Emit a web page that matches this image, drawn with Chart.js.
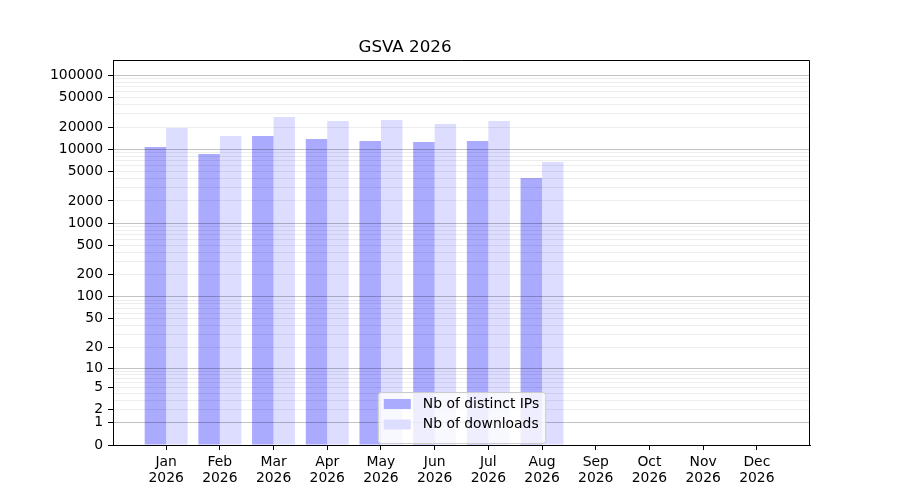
<!DOCTYPE html>
<html>
<head>
<meta charset="utf-8">
<title>GSVA 2026</title>
<script src="https://cdn.jsdelivr.net/npm/chart.js@4.4.1/dist/chart.umd.min.js"></script>
<style>
  body { margin: 0; background: #fff; }
  #wrap { width: 900px; height: 500px; }
</style>
</head>
<body>
<div id="wrap"><canvas id="gsvaChart" width="900" height="500"></canvas></div>
<script>
// values
const months = ['Jan', 'Feb', 'Mar', 'Apr', 'May', 'Jun', 'Jul', 'Aug', 'Sep', 'Oct', 'Nov', 'Dec'];
const year = '2026';
const distinctIPs = [10700, 8630, 15100, 13800, 12950, 12550, 12950, 4090];
const downloads = [19400, 15100, 27300, 24100, 24900, 22000, 24100, 6730];
const yTickValues = [0, 1, 2, 5, 10, 20, 50, 100, 200, 500, 1000, 2000, 5000, 10000, 20000, 50000, 100000];
const yTopValue = 161000;

// y axis is log10(1 + v) so that 0 can sit on the bottom
function toAxis(v) {
    return Math.log10(1 + v);
}

function isDecade(v) {
    return v >= 1 && Math.abs(Math.log10(v) - Math.round(Math.log10(v))) < 1e-9;
}

Chart.defaults.font.family = '"DejaVu Sans", sans-serif';
Chart.defaults.color = '#000';

// draws the top/right frame and the legend inside the plot
const framePlugin = {
    id: 'frameAndLegend',
    afterDraw(chart) {
        const ctx = chart.ctx;
        const a = chart.chartArea;
        ctx.save();
        ctx.strokeStyle = '#000';
        ctx.lineWidth = 1;
        ctx.beginPath();
        ctx.moveTo(a.left, Math.round(a.top) + 0.5);
        ctx.lineTo(Math.round(a.right) - 0.5, Math.round(a.top) + 0.5);
        ctx.lineTo(Math.round(a.right) - 0.5, a.bottom);
        ctx.stroke();

        // legend box
        ctx.font = '13.9px "DejaVu Sans"';
        const items = chart.data.datasets;
        const textW = Math.max(...items.map(d => ctx.measureText(d.label).width));
        const w = 6 + 27 + 12 + textW + 6;
        const h = 51;
        const x = (a.left + a.right) / 2 - w / 2;
        const y = a.bottom - 2 - h;
        ctx.fillStyle = 'rgba(255,255,255,0.8)';
        ctx.strokeStyle = '#cccccc';
        ctx.beginPath();
        ctx.roundRect(x + 0.5, y + 0.5, w, h, 3);
        ctx.fill();
        ctx.stroke();
        items.forEach((d, i) => {
            const cy = y + 12 + i * 20.5;
            ctx.fillStyle = d.backgroundColor;
            ctx.fillRect(x + 6, cy - 5, 27, 10);
            ctx.fillStyle = '#000';
            ctx.textBaseline = 'middle';
            ctx.textAlign = 'left';
            ctx.fillText(d.label, x + 45, cy);
        });
        ctx.restore();
    }
};

const ctx = document.getElementById('gsvaChart').getContext('2d');
const myChart = new Chart(ctx, {
    type: 'bar',
    data: {
        datasets: [{
            label: 'Nb of distinct IPs',
            data: distinctIPs.map((v, i) => ({ x: i, y: toAxis(v) })),
            backgroundColor: '#aaaaff',
            borderWidth: 0,
            categoryPercentage: 0.8,
            barPercentage: 1.0
        }, {
            label: 'Nb of downloads',
            data: downloads.map((v, i) => ({ x: i, y: toAxis(v) })),
            backgroundColor: '#ddddff',
            borderWidth: 0,
            categoryPercentage: 0.8,
            barPercentage: 1.0
        }]
    },
    options: {
        responsive: false,
        animation: false,
        layout: { padding: { left: 0, right: 90, top: 0, bottom: 0 } },
        scales: {
            x: {
                type: 'linear',
                offset: false,
                min: -0.99,
                max: 11.99,
                afterBuildTicks: scale => {
                    scale.ticks = months.map((m, i) => ({ value: i }));
                },
                afterFit: scale => { scale.height = 55; },
                ticks: {
                    autoSkip: false,
                    maxRotation: 0,
                    padding: 5,
                    font: { size: 13.9, lineHeight: 1.12 },
                    color: '#000',
                    callback: value => [months[value], year]
                },
                grid: { offset: false, drawOnChartArea: false, tickLength: 5, tickColor: '#000' },
                border: { color: '#000', width: 1 }
            },
            y: {
                type: 'linear',
                min: 0,
                max: toAxis(yTopValue),
                afterBuildTicks: scale => {
                    const ticks = yTickValues.map(v => ({ value: toAxis(v), raw: v, labelled: true }));
                    for (let d = 1; d <= 100000; d *= 10) {
                        for (let k = 2; k <= 9; k++) {
                            const v = k * d;
                            if (!yTickValues.includes(v) && v <= yTopValue) {
                                ticks.push({ value: toAxis(v), raw: v, labelled: false });
                            }
                        }
                    }
                    ticks.sort((p, q) => p.value - q.value);
                    scale.ticks = ticks;
                },
                afterFit: scale => { scale.width = 113; },
                ticks: {
                    autoSkip: false,
                    padding: 5,
                    font: { size: 13.9 },
                    color: '#000',
                    callback: (value, index, ticks) => ticks[index].labelled ? String(ticks[index].raw) : ''
                },
                grid: {
                    z: 1,
                    tickLength: 5,
                    color: c => (c.tick && isDecade(c.tick.raw)) ? 'rgba(0,0,0,0.24)' : 'rgba(0,0,0,0.07)',
                    tickColor: c => (c.tick && c.tick.labelled) ? '#000' : 'rgba(0,0,0,0)'
                },
                border: { color: '#000', width: 1, z: 2 }
            }
        },
        plugins: {
            title: {
                display: true,
                text: 'GSVA 2026',
                color: '#000',
                font: { size: 16.7, weight: 'normal', lineHeight: 1.2 },
                padding: { top: 38, bottom: 2 }
            },
            legend: { display: false },
            tooltip: { enabled: false }
        }
    },
    plugins: [framePlugin]
});
</script>
</body>
</html>
